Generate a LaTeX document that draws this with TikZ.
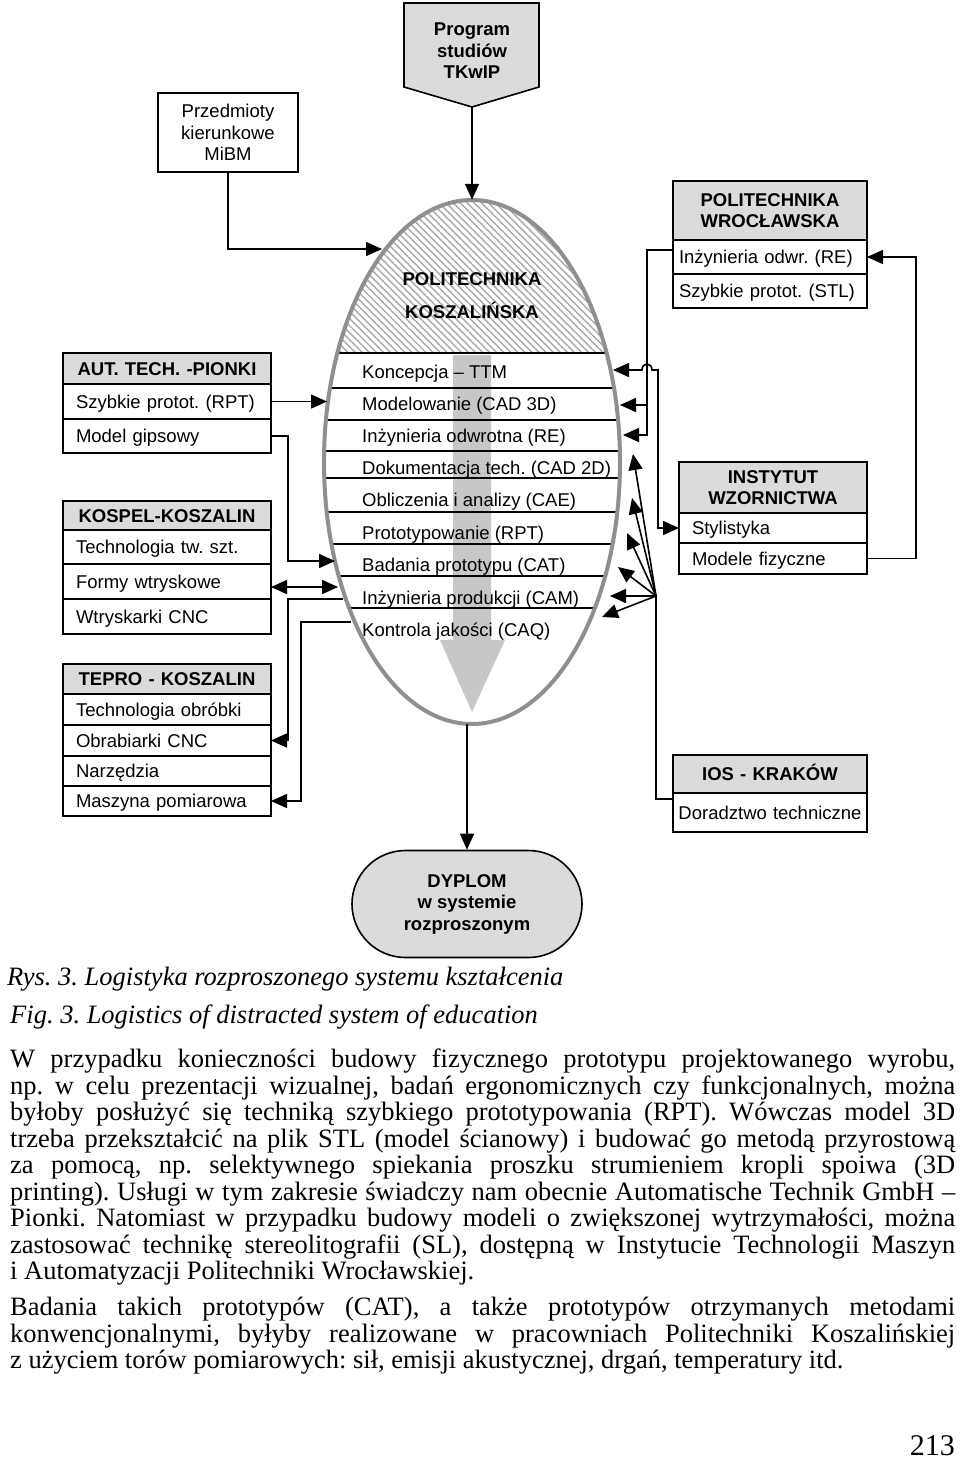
\documentclass[tikz,border=0pt]{standalone}
\usepackage{fontspec}
\newfontfamily\diafont{Liberation Sans}
\newfontfamily\bodyfont{Liberation Serif}
\usetikzlibrary{positioning, arrows.meta, shapes.misc, shapes.geometric, patterns.meta}
\definecolor{hdrgray}{gray}{0.86}
\definecolor{rimgray}{gray}{0.56}
\definecolor{flowgray}{gray}{0.78}
\definecolor{hatchgray}{gray}{0.66}
\newcommand{\diasize}{\fontsize{18.5}{21.5}\selectfont}
\newcommand{\txtsize}{\fontsize{26.5}{26.5}\selectfont}
\frenchspacing

\tikzset{
  box/.style={draw, line width=1.6pt, outer sep=0pt, fill=white, anchor=north west,
    inner ysep=0pt, font=\diafont\diasize, align=left},
  cell/.style={box, text height=13.3pt, text depth=0pt},
  hdr/.style={cell, fill=hdrgray, font=\diafont\bfseries\diasize, align=center},
  hdrtall/.style={box, fill=hdrgray, font=\diafont\bfseries\diasize, align=center},
  rowtext/.style={anchor=base west, inner sep=0pt, font=\diafont\diasize},
  link/.style={line width=1.6pt},
  tip/.style={link, -{Triangle[length=16pt,width=14pt]}},
  twotip/.style={link, {Triangle[length=16pt,width=14pt]}-{Triangle[length=16pt,width=14pt]}},
  para/.style={anchor=north west, inner sep=0pt, text width=945pt, align=justify,
    font=\bodyfont\txtsize},
}

\begin{document}
\begin{tikzpicture}[x=1pt, y=-1pt]
\fill[white] (0,0) rectangle (960,1468);
\useasboundingbox (0,0) rectangle (960,1468);

% top inputs
\filldraw[fill=hdrgray, line width=1.6pt] (404,3) -- (539,3) -- (539,87) -- (472,107) -- (404,87) -- cycle;
\coordinate (progtip) at (472,107);
\node[font=\diafont\bfseries\diasize, align=center] (prog) at (472,51) {Program\\studiów\\TKwIP};
\node[box, minimum width=140pt, minimum height=79pt, align=center] (mibm) at (158,93) {Przedmioty\\kierunkowe\\MiBM};

% POLITECHNIKA KOSZALINSKA
\node[ellipse, minimum width=296pt, minimum height=524pt, inner sep=0pt, fill=white] (pk) at (472,462) {};
\begin{scope}
  \clip (pk.center) ellipse[x radius=148, y radius=262];
  \fill[pattern={Lines[angle=-45, distance=5pt, line width=1.4pt]}, pattern color=hatchgray] (300,190) rectangle (650,353);
  \fill[flowgray] (453,355) -- (491,355) -- (491,640) -- (505,640) -- (472,712) -- (440,640) -- (453,640) -- cycle;
  \foreach \yy in {353,388,420,451,478,512,544,576,608}
    \draw[line width=1.6pt] (300,\yy) -- (650,\yy);
\end{scope}
\node[font=\diafont\bfseries\fontsize{18.5}{33}\selectfont, align=center] (pkname) at (472,295.5) {POLITECHNIKA\\KOSZALIŃSKA};
\foreach \yb/\txt [count=\i] in {378.5/Koncepcja – TTM, 410.5/Modelowanie (CAD 3D),
    442.5/Inżynieria odwrotna (RE), 474.5/Dokumentacja tech. (CAD 2D),
    506.5/Obliczenia i analizy (CAE), 539.5/Prototypowanie (RPT),
    571.5/Badania prototypu (CAT), 604.5/Inżynieria produkcji (CAM),
    636.5/Kontrola jakości (CAQ)}
  \node[rowtext] (r\i) at (362,\yb) {\txt};
\draw[rimgray, line width=4pt] (pk.center) ellipse[x radius=148, y radius=262];

% left partners
\begin{scope}[nodes={text width=182pt, inner xsep=13pt}]
\node[hdr, minimum height=31pt] (aut) at (63,353) {AUT. TECH. -PIONKI};
\node[cell, minimum height=35pt, below=0pt of aut] (aut1) {Szybkie protot. (RPT)};
\node[cell, minimum height=34pt, below=0pt of aut1] (aut2) {Model gipsowy};

\node[hdr, minimum height=29pt] (kos) at (63,501) {KOSPEL-KOSZALIN};
\node[cell, minimum height=34pt, below=0pt of kos] (kos1) {Technologia tw. szt.};
\node[cell, minimum height=35pt, below=0pt of kos1] (kos2) {Formy wtryskowe};
\node[cell, minimum height=35pt, below=0pt of kos2] (kos3) {Wtryskarki CNC};

\node[hdr, minimum height=30pt] (tep) at (63,664) {TEPRO - KOSZALIN};
\node[cell, minimum height=31pt, below=0pt of tep] (tep1) {Technologia obróbki};
\node[cell, minimum height=31pt, below=0pt of tep1] (tep2) {Obrabiarki CNC};
\node[cell, minimum height=30pt, below=0pt of tep2] (tep3) {Narzędzia};
\node[cell, minimum height=30pt, below=0pt of tep3] (tep4) {Maszyna pomiarowa};
\end{scope}

% right partners
\begin{scope}[nodes={text width=182pt, inner xsep=6pt}]
\node[hdrtall, minimum height=59pt] (pw) at (673,181) {POLITECHNIKA\\WROCŁAWSKA};
\node[cell, minimum height=34pt, below=0pt of pw] (pw1) {Inżynieria odwr. (RE)};
\node[cell, minimum height=34pt, below=0pt of pw1] (pw2) {Szybkie protot. (STL)};

\node[hdr, minimum height=38pt] (ios) at (673,755) {IOS - KRAKÓW};
\node[cell, minimum height=39pt, below=0pt of ios, text width=192pt, inner xsep=1pt, align=center] (ios1) {Doradztwo techniczne};
\end{scope}
\begin{scope}[nodes={text width=162pt, inner xsep=13pt}]
\node[hdrtall, minimum height=51pt] (iw) at (679,462) {INSTYTUT\\WZORNICTWA};
\node[cell, minimum height=30pt, below=0pt of iw] (iw1) {Stylistyka};
\node[cell, minimum height=31pt, below=0pt of iw1] (iw2) {Modele fizyczne};
\end{scope}

% output
\node[rounded rectangle, draw, line width=1.6pt, fill=hdrgray, minimum width=230pt, minimum height=107pt,
  inner sep=0pt, font=\diafont\bfseries\diasize, align=center] (dyp) at (467,904) {DYPLOM\\w systemie\\rozproszonym};

% border points of the ellipse
\coordinate (eTop) at (382,249);
\coordinate (eRPT) at (327,402);
\coordinate (eCAT) at (335,561);
\coordinate (eCAM) at (338,587);
\coordinate (eOutA) at (343,599);
\coordinate (eOutB) at (351,622);
\coordinate (eTTM) at (613,370);
\coordinate (e3D) at (620,405);
\coordinate (eRE) at (623,435);
\coordinate (j3D) at (647,405);
\coordinate (jRE) at (647,435);
\coordinate (fan) at (656,596);

% connectors
\draw[tip] (progtip) -- (pk.north);
\draw[tip] (mibm.south) |- (eTop);
\draw[tip] (pk.south -| dyp.north) -- (dyp.north);

\draw[tip] (aut1.east) -- (aut1.east -| eRPT);
\draw[tip] (aut2.east) -- ++(17,0) |- (eCAT);
\draw[twotip] (kos2.east |- eCAM) -- (eCAM);
\draw[tip] (eOutA) -- ++(-55,0) |- (tep2.east);
\draw[tip] (eOutB) -- ++(-50,0) |- (tep4.east);

\draw[tip] ([yshift=7pt]pw1.west) -| (jRE) -- (eRE);
\draw[tip] (j3D) -- (e3D);
\draw[twotip] (eTTM) -- (642,370) .. controls (642,362) and (652,362) .. (652,370) -- (658,370) |- (iw1.west);
\draw[tip] (iw2.east) -- ++(49,0) |- (pw1.east);

\foreach \tx/\ty [count=\i] in {633/454, 632/498, 627/533, 618/567, 610/596, 602/617} {
  \coordinate (f\i) at (\tx,\ty);
  \draw[tip] (fan) -- (f\i);
}
\draw[link] (fan) |- ([yshift=-6pt]ios.south west);

% caption and text
\node[anchor=base west, inner sep=0pt, font=\bodyfont\itshape\txtsize] (cap1) at (7,985) {Rys. 3. Logistyka rozproszonego systemu kształcenia};
\node[anchor=base west, inner sep=0pt, font=\bodyfont\itshape\txtsize] (cap2) at (10,1023) {Fig. 3. Logistics of distracted system of education};

\node[para] (par1) at (10,1049) {\tolerance=9999\hyphenpenalty=10000
W przypadku konieczności budowy fizycznego prototypu projektowanego wyrobu,\linebreak
np. w celu prezentacji wizualnej, badań ergonomicznych czy funkcjonalnych, można\linebreak
byłoby posłużyć się techniką szybkiego prototypowania (RPT). Wówczas model 3D\linebreak
trzeba przekształcić na plik STL (model ścianowy) i budować go metodą przyrostową\linebreak
za pomocą, np. selektywnego spiekania proszku strumieniem kropli spoiwa (3D\linebreak
printing). Usługi w tym zakresie świadczy nam obecnie Automatische Technik GmbH –\linebreak
Pionki. Natomiast w przypadku budowy modeli o zwiększonej wytrzymałości, można\linebreak
zastosować technikę stereolitografii (SL), dostępną w Instytucie Technologii Maszyn\linebreak
i Automatyzacji Politechniki Wrocławskiej.};

\node[para] (par2) at (10,1297) {\tolerance=9999\hyphenpenalty=10000
Badania takich prototypów (CAT), a także prototypów otrzymanych metodami\linebreak
konwencjonalnymi, byłyby realizowane w pracowniach Politechniki Koszalińskiej\linebreak
z użyciem torów pomiarowych: sił, emisji akustycznej, drgań, temperatury itd.};

\node[anchor=base east, inner sep=0pt, font=\bodyfont\fontsize{30}{30}\selectfont] (pnum) at (955,1455) {213};
\end{tikzpicture}
\end{document}
